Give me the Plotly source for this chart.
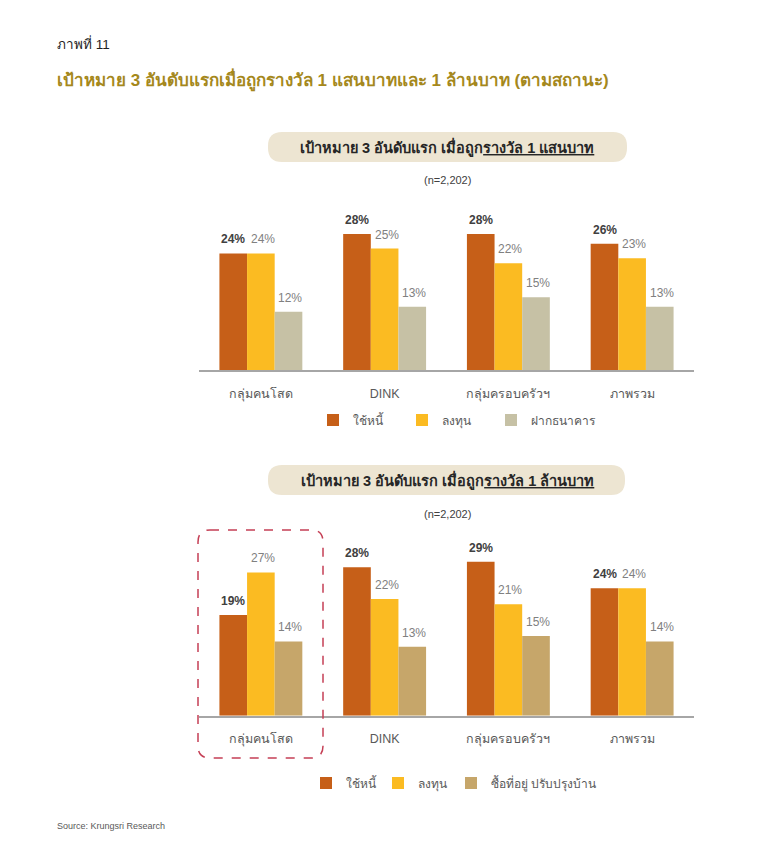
import plotly.graph_objects as go

# ---------------- data ----------------
categories = ["กลุ่มคนโสด", "DINK", "กลุ่มครอบครัวฯ", "ภาพรวม"]

top_names = ["ใช้หนี้", "ลงทุน", "ฝากธนาคาร"]
top_debt = [24, 28, 28, 26]
top_invest = [24, 25, 22, 23]
top_bank = [12, 13, 15, 13]

bot_names = ["ใช้หนี้", "ลงทุน", "ซื้อที่อยู่ ปรับปรุงบ้าน"]
bot_debt = [19, 28, 29, 24]
bot_invest = [27, 22, 21, 24]
bot_home = [14, 13, 15, 14]

fig_label = "ภาพที่ 11"
main_title = "เป้าหมาย 3 อันดับแรกเมื่อถูกรางวัล 1 แสนบาทและ 1 ล้านบาท (ตามสถานะ)"
top_header = "<b>เป้าหมาย 3 อันดับแรก เมื่อถูก<u>รางวัล 1 แสนบาท</u></b>"
bot_header = "<b>เป้าหมาย 3 อันดับแรก เมื่อถูก<u>รางวัล 1 ล้านบาท</u></b>"
sample_note = "(n=2,202)"
source_note = "Source: Krungsri Research"

# ---------------- style ----------------
W, H = 757, 860
FONT = "Liberation Sans, Arial, sans-serif"
C_DEBT = "#c65f18"
C_INV = "#fbbb22"
C_BANK = "#c6c1a5"
C_HOME = "#c6a66a"
PILL = "#ede5d2"


def px(x):
    return x / W


def py(y):
    return 1 - y / H


fig = go.Figure()

top_series = [(top_names[0], top_debt, C_DEBT), (top_names[1], top_invest, C_INV), (top_names[2], top_bank, C_BANK)]
bot_series = [(bot_names[0], bot_debt, C_DEBT), (bot_names[1], bot_invest, C_INV), (bot_names[2], bot_home, C_HOME)]

# one single-item legend per series, placed where the reference puts each key
top_legend_x = [313, 402, 491]
bot_legend_x = [306, 378, 451]
legend_layout = {}
n = 1
for axes, series, lx, ly in (("", top_series, top_legend_x, 420), ("2", bot_series, bot_legend_x, 783)):
    for (name, vals, col), x0 in zip(series, lx):
        lname = "legend" if n == 1 else f"legend{n}"
        fig.add_trace(go.Bar(x=categories, y=vals, name=name, marker=dict(color=col, line=dict(width=0)),
                             xaxis="x" + axes, yaxis="y" + axes, legend=lname, hoverinfo="skip"))
        legend_layout[lname] = dict(orientation="h", x=px(x0), y=py(ly), xanchor="left", yanchor="middle",
                                    font=dict(size=12, color="#595959", family=FONT), itemwidth=30,
                                    bgcolor="rgba(0,0,0,0)", itemclick=False, itemdoubleclick=False)
        n += 1

annotations = []
offsets = [-27.6, 0, 27.6]
for axes, series in (("", top_series), ("2", bot_series)):
    for i, (name, vals, col) in enumerate(series):
        for cat, v in zip(categories, vals):
            if i == 0:
                txt = f"<b>{v}%</b>"
                fc = "#404040"
            else:
                txt = f"{v}%"
                fc = "#808080"
            annotations.append(dict(x=cat, y=v, xref="x" + axes, yref="y" + axes, text=txt,
                                    showarrow=False, xshift=offsets[i] + (2 if i else 0), yshift=14,
                                    yanchor="middle", font=dict(size=12, color=fc, family=FONT)))

annotations += [
    dict(x=px(55), y=py(43), xref="paper", yref="paper", xanchor="left", yanchor="middle",
         text=fig_label, showarrow=False, font=dict(size=13.5, color="#1f1f1f", family=FONT)),
    dict(x=px(55), y=py(80), xref="paper", yref="paper", xanchor="left", yanchor="middle",
         text=f"<b>{main_title}</b>", showarrow=False, font=dict(size=17, color="#a5881c", family=FONT)),
    dict(x=px(447), y=py(147), xref="paper", yref="paper", xanchor="center", yanchor="middle",
         text=top_header, showarrow=False, font=dict(size=14.5, color="#262626", family=FONT)),
    dict(x=px(447), y=py(180), xref="paper", yref="paper", xanchor="center", yanchor="middle",
         text=sample_note, showarrow=False, font=dict(size=11, color="#404040", family=FONT)),
    dict(x=px(447), y=py(480), xref="paper", yref="paper", xanchor="center", yanchor="middle",
         text=bot_header, showarrow=False, font=dict(size=14.5, color="#262626", family=FONT)),
    dict(x=px(447), y=py(514), xref="paper", yref="paper", xanchor="center", yanchor="middle",
         text=sample_note, showarrow=False, font=dict(size=11, color="#404040", family=FONT)),
    dict(x=px(55), y=py(826), xref="paper", yref="paper", xanchor="left", yanchor="middle",
         text=source_note, showarrow=False, font=dict(size=9, color="#595959", family=FONT)),
]


def rounded_rect(x0, y0, x1, y1, r):
    # pixel coords -> paper path
    rx, ry = r / W, r / H
    X0, X1 = px(x0), px(x1)
    Y0, Y1 = py(y1), py(y0)  # bottom, top in paper
    return (f"M{X0 + rx},{Y1} L{X1 - rx},{Y1} Q{X1},{Y1} {X1},{Y1 - ry} "
            f"L{X1},{Y0 + ry} Q{X1},{Y0} {X1 - rx},{Y0} L{X0 + rx},{Y0} "
            f"Q{X0},{Y0} {X0},{Y0 + ry} L{X0},{Y1 - ry} Q{X0},{Y1} {X0 + rx},{Y1} Z")


shapes = [
    dict(type="path", xref="paper", yref="paper", path=rounded_rect(268, 132, 627, 162, 14),
         fillcolor=PILL, line=dict(width=0), layer="below"),
    dict(type="path", xref="paper", yref="paper", path=rounded_rect(268, 465, 625, 495, 14),
         fillcolor=PILL, line=dict(width=0), layer="below"),
    dict(type="path", xref="paper", yref="paper", path=rounded_rect(198, 530, 323, 758, 12),
         fillcolor="rgba(0,0,0,0)", line=dict(width=1.5, color="#c53f55", dash="dash")),
]

xcommon = dict(type="category", range=[-0.5, 3.5], showline=True, linecolor="#a6a6a6", linewidth=1.5,
               ticks="", showgrid=False, zeroline=False, fixedrange=True,
               tickfont=dict(size=12.5, color="#595959", family=FONT), ticklabelstandoff=11)
ycommon = dict(range=[0, 35], visible=False, showgrid=False, zeroline=False, fixedrange=True)

fig.update_layout(
    width=W, height=H, margin=dict(l=0, r=0, t=0, b=0, pad=0),
    paper_bgcolor="white", plot_bgcolor="white",
    font=dict(family=FONT, color="#595959"),
    barmode="group", bargap=0.33, bargroupgap=0,
    xaxis=dict(domain=[px(199), px(694)], anchor="y", **xcommon),
    yaxis=dict(domain=[py(370), py(200)], anchor="x", **ycommon),
    xaxis2=dict(domain=[px(199), px(694)], anchor="y2", **xcommon),
    yaxis2=dict(domain=[py(715.7), py(530)], anchor="x2", **ycommon),
    annotations=annotations,
    shapes=shapes,
    showlegend=True,
    **legend_layout,
)

fig.write_html("out.html", config={"displayModeBar": False},
               post_script="document.body.style.margin='0';document.body.style.overflow='hidden';")
